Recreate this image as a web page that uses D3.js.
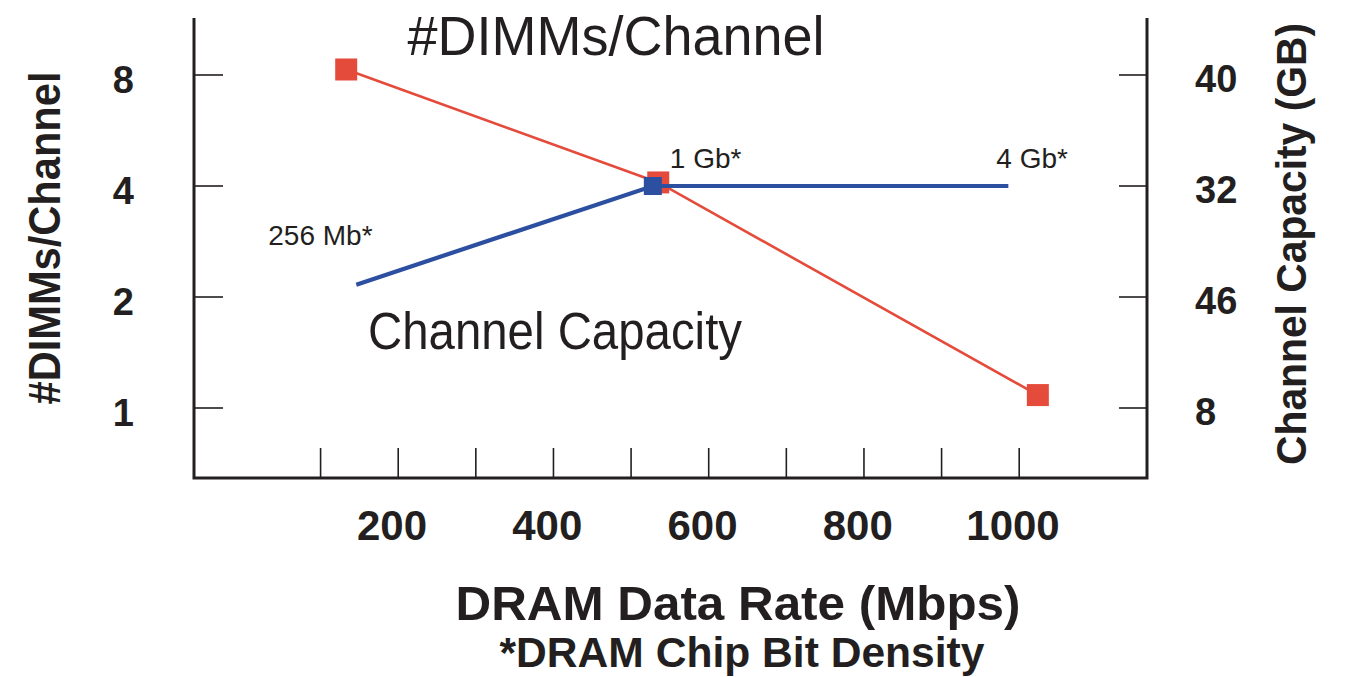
<!DOCTYPE html>
<html>
<head>
<meta charset="utf-8">
<script src="https://cdn.jsdelivr.net/npm/d3@7"></script>
<style>
  html, body { margin: 0; padding: 0; background: #fff; }
  svg { display: block; font-family: "Liberation Sans", Arial, Helvetica, sans-serif; }
</style>
</head>
<body>
<svg id="chart" width="1345" height="677"></svg>
<script>
// ---- data ----
const dimmRates = [141, 543, 1032];          // DRAM data rate (Mbps)
const dimmCounts = [8.28, 4.09, 1.084];      // #DIMMs / channel
const capRates = [154, 536, 994];            // DRAM data rate (Mbps)
const capValues = [2.16, 4.0, 4.0];          // plotted on the same log scale
const capLabels = ["256 Mb*", "1 Gb*", "4 Gb*"];
const xTickLabels = [200, 400, 600, 800, 1000];
const xMinorTicks = [108, 208, 308, 408, 508, 608, 708, 808, 908, 1008];
const leftTicks = [8, 4, 2, 1];
const rightTickLabels = ["40", "32", "46", "8"];

// ---- layout ----
const svg = d3.select("#chart");
const plotL = 194, plotR = 1147, plotT = 18, plotB = 478;
const x = d3.scaleLinear().domain([200, 1000]).range([392, 1013]);
const y = d3.scaleLog().base(2).domain([1, 8]).range([408, 75]);
const axisColor = "#231f20";
const red = "#e44b3b", blue = "#2c4f9f";

// frame
svg.append("path")
  .attr("d", `M${plotL},${plotT}V${plotB}H${plotR}V${plotT}`)
  .attr("fill", "none").attr("stroke", axisColor).attr("stroke-width", 3);

// left ticks (inward)
svg.append("g").selectAll("line").data(leftTicks).join("line")
  .attr("x1", plotL).attr("x2", plotL + 29)
  .attr("y1", d => y(d)).attr("y2", d => y(d))
  .attr("stroke", axisColor).attr("stroke-width", 1.6);
// right ticks (inward)
svg.append("g").selectAll("line").data(leftTicks).join("line")
  .attr("x1", plotR - 28).attr("x2", plotR)
  .attr("y1", d => y(d)).attr("y2", d => y(d))
  .attr("stroke", axisColor).attr("stroke-width", 1.6);
// bottom ticks (inward)
svg.append("g").selectAll("line").data(xMinorTicks).join("line")
  .attr("x1", d => x(d)).attr("x2", d => x(d))
  .attr("y1", plotB - 30).attr("y2", plotB)
  .attr("stroke", axisColor).attr("stroke-width", 1.6);

// left tick labels
svg.append("g").selectAll("text").data(leftTicks).join("text")
  .attr("x", 134).attr("y", d => y(d) + 18)
  .attr("text-anchor", "end").attr("font-weight", "bold").attr("font-size", 38)
  .attr("fill", axisColor).text(d => d);
// right tick labels
svg.append("g").selectAll("text").data(leftTicks).join("text")
  .attr("x", 1195).attr("y", d => y(d) + 17)
  .attr("text-anchor", "start").attr("font-weight", "bold").attr("font-size", 38)
  .attr("fill", axisColor).text((d, i) => rightTickLabels[i]);
// x tick labels
svg.append("g").selectAll("text").data(xTickLabels).join("text")
  .attr("x", d => x(d)).attr("y", 540)
  .attr("text-anchor", "middle").attr("font-weight", "bold").attr("font-size", 42)
  .attr("fill", axisColor).text(d => d);

// axis titles
svg.append("text")
  .attr("transform", "translate(60,238) rotate(-90)")
  .attr("text-anchor", "middle").attr("font-weight", "bold").attr("font-size", 44)
  .attr("textLength", 333).attr("lengthAdjust", "spacingAndGlyphs")
  .attr("fill", axisColor).text("#DIMMs/Channel");
svg.append("text")
  .attr("transform", "translate(1306,244) rotate(-90)")
  .attr("text-anchor", "middle").attr("font-weight", "bold").attr("font-size", 42)
  .attr("textLength", 442).attr("lengthAdjust", "spacingAndGlyphs")
  .attr("fill", axisColor).text("Channel Capacity (GB)");
svg.append("text")
  .attr("x", 738).attr("y", 620)
  .attr("text-anchor", "middle").attr("font-weight", "bold").attr("font-size", 49)
  .attr("textLength", 565).attr("lengthAdjust", "spacingAndGlyphs")
  .attr("fill", axisColor).text("DRAM Data Rate (Mbps)");
svg.append("text")
  .attr("x", 742).attr("y", 667)
  .attr("text-anchor", "middle").attr("font-weight", "bold").attr("font-size", 42)
  .attr("textLength", 485).attr("lengthAdjust", "spacingAndGlyphs")
  .attr("fill", axisColor).text("*DRAM Chip Bit Density");

// series titles
svg.append("text")
  .attr("x", 616).attr("y", 55)
  .attr("text-anchor", "middle").attr("font-size", 55)
  .attr("textLength", 417).attr("lengthAdjust", "spacingAndGlyphs")
  .attr("fill", axisColor).text("#DIMMs/Channel");
svg.append("text")
  .attr("x", 368).attr("y", 349)
  .attr("text-anchor", "start").attr("font-size", 51)
  .attr("textLength", 374).attr("lengthAdjust", "spacingAndGlyphs")
  .attr("fill", axisColor).text("Channel Capacity");

// red series (#DIMMs)
const dimmData = dimmRates.map((r, i) => [r, dimmCounts[i]]);
const line = d3.line().x(d => x(d[0])).y(d => y(d[1]));
svg.append("path").datum(dimmData)
  .attr("d", line).attr("fill", "none").attr("stroke", red).attr("stroke-width", 2.6);
svg.append("g").selectAll("rect").data(dimmData).join("rect")
  .attr("x", d => x(d[0]) - 11).attr("y", d => y(d[1]) - 11)
  .attr("width", 22).attr("height", 22).attr("fill", red);

// blue series (channel capacity)
const capData = capRates.map((r, i) => [r, capValues[i]]);
svg.append("path").datum(capData)
  .attr("d", line).attr("fill", "none").attr("stroke", blue).attr("stroke-width", 4.2);
svg.append("rect").datum(capData[1])
  .attr("x", d => x(d[0]) - 9).attr("y", d => y(d[1]) - 9)
  .attr("width", 18).attr("height", 18).attr("fill", blue);

// density labels
const capLabelPos = [
  {dx: -88, dy: -40},
  {dx: 17, dy: -18},
  {dx: -12, dy: -18}
];
svg.append("g").selectAll("text").data(capData).join("text")
  .attr("x", (d, i) => x(d[0]) + capLabelPos[i].dx)
  .attr("y", (d, i) => y(d[1]) + capLabelPos[i].dy)
  .attr("font-size", 28).attr("fill", axisColor)
  .text((d, i) => capLabels[i]);
</script>
</body>
</html>
